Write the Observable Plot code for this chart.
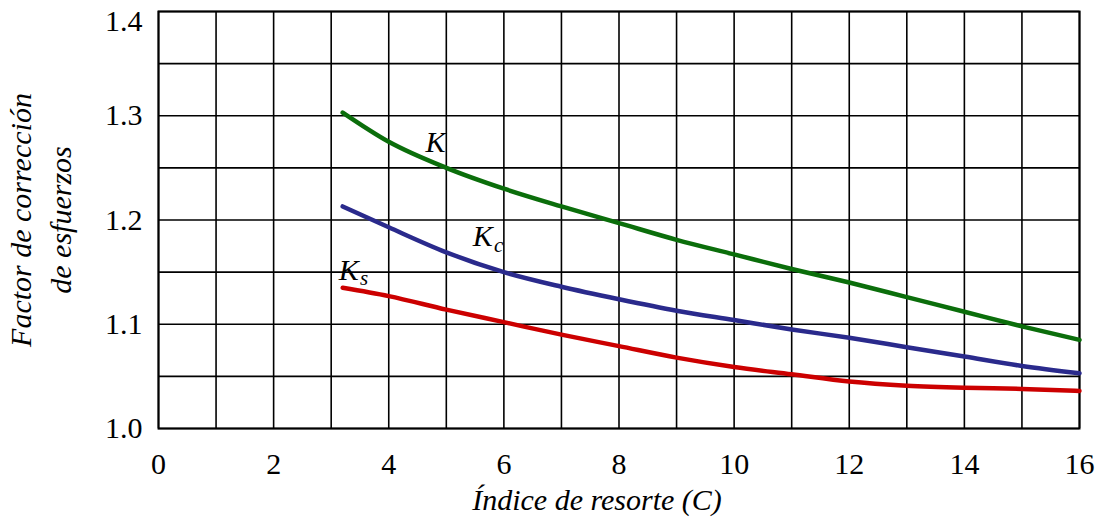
<!DOCTYPE html>
<html>
<head>
<meta charset="utf-8">
<script src="https://cdn.jsdelivr.net/npm/d3@7"></script>
<script src="https://cdn.jsdelivr.net/npm/@observablehq/plot@0.6"></script>
<style>
  html, body { margin: 0; padding: 0; background: #fff; font-family: "Liberation Serif", serif; }
  #chart svg { display: block; }
  #chart text, #chart tspan { font-family: "Liberation Serif", "Times New Roman", serif !important; }
</style>
</head>
<body>
<div id="chart"></div>
<script>
// Spring index C (x) and stress-correction factors
const C  = [3.2, 4, 5, 6, 7, 8, 9, 10, 11, 12, 13, 14, 15, 16];
const K  = [1.303, 1.275, 1.250, 1.230, 1.213, 1.197, 1.181, 1.167, 1.153, 1.140, 1.126, 1.112, 1.098, 1.085];
const Kc = [1.213, 1.193, 1.169, 1.150, 1.136, 1.124, 1.113, 1.104, 1.095, 1.087, 1.078, 1.069, 1.060, 1.053];
const Ks = [1.135, 1.127, 1.114, 1.102, 1.090, 1.079, 1.068, 1.059, 1.052, 1.045, 1.041, 1.039, 1.038, 1.036];

const seriesNames  = ["K", "Kc", "Ks"];
const seriesColors = ["#0b6e0b", "#2a2a8c", "#cc0000"];

const xTicks = [0, 2, 4, 6, 8, 10, 12, 14, 16];
const yTicks = [1.0, 1.1, 1.2, 1.3];
const yTopTick = [1.4];
const xGrid = d3.range(0, 17, 1);
const yGrid = [1.0, 1.05, 1.1, 1.15, 1.2, 1.25, 1.3, 1.35, 1.4];

// curve labels: main letter + subscript
const labelMain = [
  {text: "K", x: 4.64, y: 1.274},
  {text: "K", x: 5.46, y: 1.184},
  {text: "K", x: 3.13, y: 1.152}
];
const labelSub = [
  {text: "c", x: 5.83, y: 1.176},
  {text: "s", x: 3.50, y: 1.144}
];

const xTitle = "Índice de resorte (C)";
const yTitle = "Factor de corrección\nde esfuerzos";

const values = [K, Kc, Ks];
const rows = [];
seriesNames.forEach((s, i) => C.forEach((c, j) => rows.push({series: s, C: c, v: values[i][j]})));

const font = "Liberation Serif";

const chart = Plot.plot({
  width: 1096,
  height: 521,
  marginLeft: 158,
  marginRight: 17,
  marginTop: 11,
  marginBottom: 93,
  style: {fontSize: "30px", color: "black", background: "white"},
  x: {domain: [0, 16]},
  y: {domain: [1.0, 1.4]},
  color: {domain: seriesNames, range: seriesColors},
  marks: [
    Plot.ruleX(xGrid, {stroke: "black", strokeWidth: 1.6}),
    Plot.ruleY(yGrid, {stroke: "black", strokeWidth: 1.6}),
    Plot.frame({stroke: "black", strokeWidth: 2}),
    Plot.line(rows, {x: "C", y: "v", z: "series", stroke: "series", strokeWidth: 4.5, curve: "monotone-x"}),
    Plot.axisX({ticks: xTicks, tickSize: 0, tickPadding: 24, fontSize: 30, label: null}),
    Plot.axisY({ticks: yTicks, tickSize: 0, tickPadding: 16, fontSize: 30, label: null,
      tickFormat: d3.format(".1f")}),
    Plot.axisY({ticks: yTopTick, tickSize: 0, tickPadding: 16, fontSize: 30, label: null,
      dy: 10, tickFormat: d3.format(".1f")}),
    Plot.text(labelMain, {x: "x", y: "y", text: "text", textAnchor: "start", fontSize: 30, fontStyle: "italic"}),
    Plot.text(labelSub, {x: "x", y: "y", text: "text", textAnchor: "start", fontSize: 21, fontStyle: "italic"}),
    Plot.text([xTitle], {frameAnchor: "bottom", dy: 72, dx: -22, fontSize: 30, fontStyle: "italic", lineAnchor: "middle"}),
    Plot.text([yTitle], {frameAnchor: "left", dx: -120, rotate: -90, fontSize: 30, fontStyle: "italic",
      lineAnchor: "middle", textAnchor: "middle", lineHeight: 1.33})
  ]
});

// force the serif family everywhere inside the svg
chart.removeAttribute("font-family");
chart.style.fontFamily = "'Liberation Serif', serif";
const innerStyle = document.createElementNS("http://www.w3.org/2000/svg", "style");
innerStyle.textContent = "text, tspan { font-family: 'Liberation Serif', 'Times New Roman', serif !important; }";
chart.insertBefore(innerStyle, chart.firstChild);
d3.select(chart).selectAll("g, text, tspan")
  .attr("font-family", font)
  .style("font-family", "'Liberation Serif', serif", "important");

document.getElementById("chart").appendChild(chart);
</script>
</body>
</html>
